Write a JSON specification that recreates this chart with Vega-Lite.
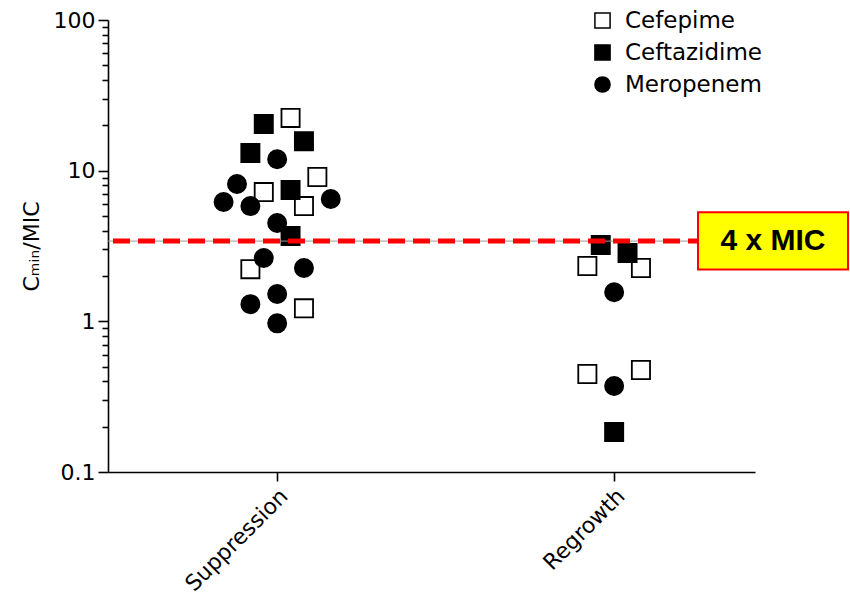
{
  "$schema": "https://vega.github.io/schema/vega-lite/v6.json",
  "width": 647,
  "height": 452,
  "autosize": {"type": "none"},
  "padding": {"left": 108, "top": 20, "right": 95, "bottom": 135},
  "background": "white",
  "config": {"view": {"stroke": null}, "font": "DejaVu Sans"},
  "datasets": {
    "points": [
      {"outcome": "Suppression", "drug": "Cefepime", "value": 22.4, "slot": 1},
      {"outcome": "Suppression", "drug": "Cefepime", "value": 7.21, "slot": -1},
      {"outcome": "Suppression", "drug": "Cefepime", "value": 9.07, "slot": 3},
      {"outcome": "Suppression", "drug": "Cefepime", "value": 5.82, "slot": 2},
      {"outcome": "Suppression", "drug": "Cefepime", "value": 2.22, "slot": -2},
      {"outcome": "Suppression", "drug": "Cefepime", "value": 1.22, "slot": 2},
      {"outcome": "Suppression", "drug": "Ceftazidime", "value": 20.4, "slot": -1},
      {"outcome": "Suppression", "drug": "Ceftazidime", "value": 13.1, "slot": -2},
      {"outcome": "Suppression", "drug": "Ceftazidime", "value": 15.7, "slot": 2},
      {"outcome": "Suppression", "drug": "Ceftazidime", "value": 7.44, "slot": 1},
      {"outcome": "Suppression", "drug": "Ceftazidime", "value": 3.68, "slot": 1},
      {"outcome": "Suppression", "drug": "Meropenem", "value": 11.9, "slot": 0},
      {"outcome": "Suppression", "drug": "Meropenem", "value": 8.15, "slot": -3},
      {"outcome": "Suppression", "drug": "Meropenem", "value": 6.19, "slot": -4},
      {"outcome": "Suppression", "drug": "Meropenem", "value": 5.82, "slot": -2},
      {"outcome": "Suppression", "drug": "Meropenem", "value": 6.48, "slot": 4},
      {"outcome": "Suppression", "drug": "Meropenem", "value": 4.49, "slot": 0},
      {"outcome": "Suppression", "drug": "Meropenem", "value": 2.63, "slot": -1},
      {"outcome": "Suppression", "drug": "Meropenem", "value": 2.26, "slot": 2},
      {"outcome": "Suppression", "drug": "Meropenem", "value": 1.52, "slot": 0},
      {"outcome": "Suppression", "drug": "Meropenem", "value": 1.30, "slot": -2},
      {"outcome": "Suppression", "drug": "Meropenem", "value": 0.97, "slot": 0},
      {"outcome": "Regrowth", "drug": "Cefepime", "value": 2.33, "slot": -2},
      {"outcome": "Regrowth", "drug": "Cefepime", "value": 2.26, "slot": 2},
      {"outcome": "Regrowth", "drug": "Cefepime", "value": 0.447, "slot": -2},
      {"outcome": "Regrowth", "drug": "Cefepime", "value": 0.475, "slot": 2},
      {"outcome": "Regrowth", "drug": "Ceftazidime", "value": 3.21, "slot": -1},
      {"outcome": "Regrowth", "drug": "Ceftazidime", "value": 2.84, "slot": 1},
      {"outcome": "Regrowth", "drug": "Ceftazidime", "value": 0.184, "slot": 0},
      {"outcome": "Regrowth", "drug": "Meropenem", "value": 1.56, "slot": 0},
      {"outcome": "Regrowth", "drug": "Meropenem", "value": 0.372, "slot": 0}
    ],
    "threshold": [
      {"label": "4 x MIC", "threshold": 3.41, "boxTop": 5.29, "boxBottom": 2.21}
    ]
  },
  "layer": [
    {
      "data": {"name": "points"},
      "mark": {"type": "point", "filled": true, "strokeWidth": 1.8, "opacity": 1, "size": 330},
      "encoding": {
        "x": {
          "field": "outcome", "type": "nominal", "sort": ["Suppression", "Regrowth"],
          "scale": {"paddingInner": 0.5, "paddingOuter": 0.21, "align": 0.6},
          "axis": {
            "title": null, "labelAngle": -45, "labelFontSize": 22, "labelColor": "black",
            "domainColor": "black", "domainWidth": 1.6, "tickColor": "black", "tickWidth": 1.6,
            "tickSize": 9, "labelPadding": 4, "grid": false
          }
        },
        "xOffset": {"field": "slot", "type": "quantitative", "scale": {"domain": [-6.29, 6.29], "range": [0, 168.5]}},
        "y": {
          "field": "value", "type": "quantitative",
          "scale": {"type": "log", "domain": [0.1, 100], "nice": false},
          "axis": {
            "title": "Cₘᵢₙ/MIC", "titleFontSize": 22, "titleFontWeight": "normal", "titleColor": "black", "titlePadding": 10,
            "values": [0.1, 0.2, 0.3, 0.4, 0.5, 0.6, 0.7, 0.8, 0.9, 1, 2, 3, 4, 5, 6, 7, 8, 9, 10, 20, 30, 40, 50, 60, 70, 80, 90, 100],
            "labelExpr": "indexof([0.1, 1, 10, 100], datum.value) >= 0 ? format(datum.value, '~g') : ''",
            "tickSize": {"condition": {"test": "indexof([0.1, 1, 10, 100], datum.value) >= 0", "value": 10}, "value": 6},
            "labelFontSize": 22, "labelColor": "black", "labelPadding": 3,
            "domainColor": "black", "domainWidth": 1.6, "tickColor": "black", "tickWidth": 1.6, "grid": false
          }
        },
        "shape": {
          "field": "drug", "type": "nominal",
          "scale": {"domain": ["Cefepime", "Ceftazidime", "Meropenem"], "range": ["square", "square", "circle"]},
          "legend": {
            "title": null, "orient": "none", "legendX": 483, "legendY": -11, "padding": 0,
            "labelFontSize": 23, "labelColor": "black", "labelOffset": 11, "rowPadding": 8,
            "symbolSize": 230, "symbolStrokeWidth": 1.5
          }
        },
        "fill": {
          "field": "drug", "type": "nominal",
          "scale": {"domain": ["Cefepime", "Ceftazidime", "Meropenem"], "range": ["white", "black", "black"]},
          "legend": {
            "title": null, "orient": "none", "legendX": 483, "legendY": -11, "padding": 0,
            "labelFontSize": 23, "labelColor": "black", "labelOffset": 11, "rowPadding": 8,
            "symbolSize": 230, "symbolStrokeWidth": 1.5
          }
        },
        "stroke": {
          "field": "drug", "type": "nominal",
          "scale": {"domain": ["Cefepime", "Ceftazidime", "Meropenem"], "range": ["black", "black", "black"]},
          "legend": {
            "title": null, "orient": "none", "legendX": 483, "legendY": -11, "padding": 0,
            "labelFontSize": 23, "labelColor": "black", "labelOffset": 11, "rowPadding": 8,
            "symbolSize": 230, "symbolStrokeWidth": 1.5
          }
        }
      }
    },
    {
      "data": {"name": "threshold"},
      "mark": {"type": "rule", "color": "#999999", "strokeWidth": 1},
      "encoding": {"y": {"field": "threshold", "type": "quantitative"}}
    },
    {
      "data": {"name": "threshold"},
      "mark": {"type": "rule", "color": "#FF0000", "strokeWidth": 5, "strokeDash": [17, 8]},
      "encoding": {"y": {"field": "threshold", "type": "quantitative"}}
    },
    {
      "data": {"name": "threshold"},
      "mark": {"type": "rect", "fill": "#FFFF00", "stroke": "#FF0000", "strokeWidth": 2, "x": {"expr": "width - 57"}, "x2": {"expr": "width + 93"}},
      "encoding": {
        "y": {"field": "boxTop", "type": "quantitative"},
        "y2": {"field": "boxBottom"}
      }
    },
    {
      "data": {"name": "threshold"},
      "mark": {"type": "text", "font": "Liberation Sans", "fontWeight": "bold", "fontSize": 30, "align": "center", "baseline": "middle", "color": "black", "x": {"expr": "width + 18"}},
      "encoding": {
        "y": {"field": "threshold", "type": "quantitative"},
        "text": {"field": "label"}
      }
    }
  ]
}
